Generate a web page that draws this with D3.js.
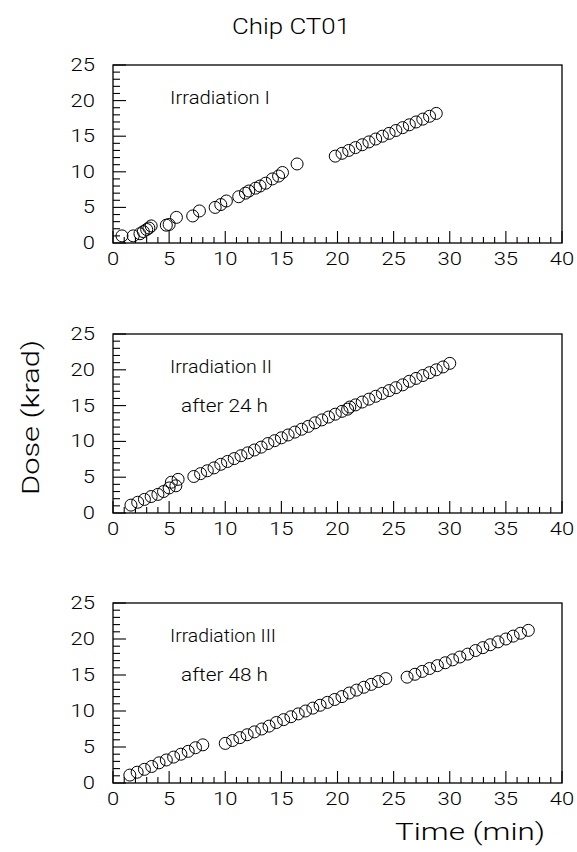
<!DOCTYPE html>
<html>
<head>
<meta charset="utf-8">
<script src="https://cdn.jsdelivr.net/npm/d3@7/dist/d3.min.js"></script>
<style>
  html, body { margin: 0; padding: 0; background: #fff; }
  svg text { font-family: "Roboto", "Liberation Sans", sans-serif; font-weight: 300; fill: #000; }
</style>
</head>
<body>
<svg id="chart" width="577" height="852"></svg>
<script>
// ---- data ----
const title = "Chip CT01";
const xTitle = "Time (min)";
const yTitle = "Dose (krad)";
const xTicks = [0, 5, 10, 15, 20, 25, 30, 35, 40];
const yTicks = [0, 5, 10, 15, 20, 25];

const labels1 = ["Irradiation I"];
const time1 = [0.8,1.8,2.4,2.7,3.0,3.2,3.4,4.75,5.0,5.65,7.1,7.7,9.1,9.6,10.1,11.2,11.8,12.1,12.7,13.1,13.6,14.2,14.75,15.1,16.4,
               19.8,20.4,21.0,21.6,22.2,22.8,23.4,24.0,24.6,25.2,25.8,26.4,27.0,27.6,28.2,28.8];
const dose1 = [1.0,1.0,1.3,1.6,1.9,2.1,2.4,2.5,2.6,3.6,3.8,4.5,5.0,5.4,5.9,6.5,7.0,7.3,7.7,8.0,8.4,9.0,9.4,9.9,11.1,
               12.2,12.6,13.0,13.4,13.8,14.2,14.6,15.0,15.4,15.8,16.2,16.6,17.0,17.4,17.8,18.2];

const labels2 = ["Irradiation II", "after 24 h"];
const time2 = [1.6,2.2,2.8,3.4,4.0,4.5,5.0,5.2,5.6,5.8,
               7.2,7.8,8.4,9.0,9.6,10.2,10.8,11.4,12.0,12.6,13.2,13.8,14.4,15.0,15.6,16.2,16.8,17.4,18.0,18.6,19.2,19.8,20.4,20.9,21.1,
               21.6,22.2,22.8,23.4,24.0,24.6,25.2,25.8,26.4,27.0,27.6,28.2,28.8,29.4,30.0];
const dose2 = [1.1,1.5,1.9,2.3,2.6,3.0,3.5,4.3,3.8,4.7,
               5.1,5.5,5.9,6.3,6.8,7.2,7.6,8.0,8.4,8.8,9.2,9.7,10.1,10.5,10.9,11.3,11.7,12.1,12.6,13.0,13.4,13.8,14.2,14.5,14.8,
               15.1,15.5,15.9,16.3,16.7,17.1,17.5,17.9,18.4,18.8,19.2,19.6,20.0,20.4,20.9];

const labels3 = ["Irradiation III", "after 48 h"];
const time3 = [1.5,2.15,2.8,3.45,4.1,4.75,5.4,6.05,6.7,7.35,8.0,
               10.0,10.65,11.3,11.95,12.6,13.25,13.9,14.55,15.2,15.85,16.5,17.15,17.8,18.45,19.1,19.75,20.4,21.05,21.7,22.35,23.0,23.65,24.3,
               26.2,26.9,27.55,28.2,28.9,29.6,30.25,30.9,31.6,32.3,32.95,33.6,34.3,35.0,35.65,36.3,37.0];
const dose3 = [1.1,1.5,1.9,2.3,2.8,3.2,3.6,4.0,4.4,4.9,5.3,
               5.5,5.9,6.3,6.7,7.1,7.5,7.9,8.4,8.8,9.2,9.6,10.0,10.4,10.8,11.2,11.6,12.0,12.5,12.9,13.3,13.7,14.1,14.5,
               14.7,15.1,15.5,15.9,16.3,16.7,17.1,17.5,17.9,18.4,18.8,19.2,19.6,20.0,20.4,20.8,21.2];

// ---- layout ----
const svg = d3.select("#chart");
const left = 113, right = 562;
const panels = [
  { top: 65,  bottom: 243, t: time1, d: dose1, labels: labels1, widths: [100] },
  { top: 334, bottom: 513, t: time2, d: dose2, labels: labels2, widths: [102, 87] },
  { top: 603, bottom: 783, t: time3, d: dose3, labels: labels3, widths: [106, 87] }
];

const x = d3.scaleLinear().domain([0, 40]).range([left, right]);
const minorX = d3.range(0, 41, 1);
const minorY = d3.range(0, 26, 1);
const digitW = 12.2;

panels.forEach(p => {
  const y = d3.scaleLinear().domain([0, 25]).range([p.bottom, p.top]);
  const g = svg.append("g");

  // frame
  g.append("rect")
    .attr("x", left).attr("y", p.top)
    .attr("width", right - left).attr("height", p.bottom - p.top)
    .attr("fill", "none").attr("stroke", "#000").attr("stroke-width", 1.3);

  // x ticks (inward)
  g.selectAll(".xt").data(minorX).enter().append("line")
    .attr("x1", d => x(d)).attr("x2", d => x(d))
    .attr("y1", p.bottom).attr("y2", d => p.bottom - (d % 5 === 0 ? 12 : 6))
    .attr("stroke", "#000").attr("stroke-width", 1.1);
  // y ticks (inward)
  g.selectAll(".yt").data(minorY).enter().append("line")
    .attr("y1", d => y(d)).attr("y2", d => y(d))
    .attr("x1", left).attr("x2", d => left + (d % 5 === 0 ? 13 : 7))
    .attr("stroke", "#000").attr("stroke-width", 1.1);

  // tick labels
  g.selectAll(".xl").data(xTicks).enter().append("text")
    .attr("x", d => x(d)).attr("y", p.bottom + 22)
    .attr("text-anchor", "middle").attr("font-size", 17.5)
    .attr("textLength", d => String(d).length * digitW)
    .attr("lengthAdjust", "spacingAndGlyphs")
    .text(d => d);
  g.selectAll(".yl").data(yTicks).enter().append("text")
    .attr("x", 95).attr("y", d => y(d) + 6)
    .attr("text-anchor", "end").attr("font-size", 17.5)
    .attr("textLength", d => String(d).length * digitW)
    .attr("lengthAdjust", "spacingAndGlyphs")
    .text(d => d);

  // points
  g.selectAll("circle").data(p.t.map((t, i) => [t, p.d[i]])).enter().append("circle")
    .attr("cx", d => x(d[0])).attr("cy", d => y(d[1])).attr("r", 6)
    .attr("fill", "none").attr("stroke", "#000").attr("stroke-width", 1);

  // labels
  const lx = [170, 181];
  const ly = [39, 78];
  p.labels.forEach((s, i) => {
    g.append("text").attr("x", lx[i]).attr("y", p.top + ly[i])
      .attr("font-size", 17.5)
      .attr("textLength", p.widths[i]).attr("lengthAdjust", "spacingAndGlyphs")
      .text(s);
  });
});

// titles
svg.append("text").attr("x", 232).attr("y", 34)
  .attr("font-size", 22.5).attr("textLength", 118).attr("lengthAdjust", "spacingAndGlyphs")
  .text(title);
svg.append("text").attr("x", 395).attr("y", 840)
  .attr("font-size", 24).attr("textLength", 150).attr("lengthAdjust", "spacingAndGlyphs")
  .text(xTitle);
svg.append("text").attr("transform", "translate(39,495) rotate(-90)")
  .attr("font-size", 23.5).attr("textLength", 155).attr("lengthAdjust", "spacingAndGlyphs")
  .text(yTitle);
</script>
</body>
</html>
